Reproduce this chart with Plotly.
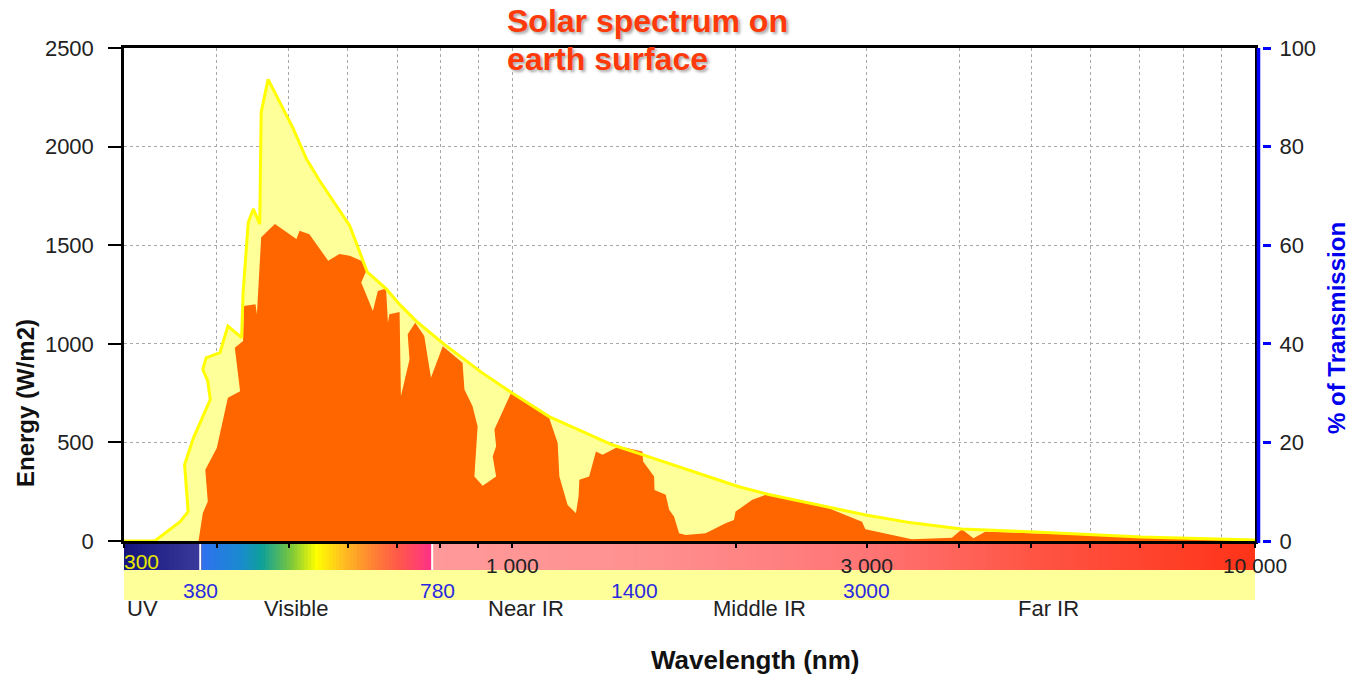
import math
import plotly.graph_objects as go

# ---------------- data ----------------
# Upper (light yellow) spectrum
wl_top = [300, 330, 357, 366, 362, 372, 392, 389, 383, 387, 404, 414, 432, 434, 441, 448,
          457, 459, 469, 507, 528, 550, 604, 638, 677, 705, 743, 810, 909, 997, 1121, 1363,
          1514, 2019, 2215, 2991, 3449, 4025, 5061, 7027, 10000]
e_top = [0, 0, 98, 149, 387, 522, 717, 810, 870, 929, 955, 1090, 1031, 1260, 1616, 1684,
         1607, 2175, 2341, 2091, 1938, 1828, 1599, 1363, 1277, 1200, 1114, 997, 855, 753, 631, 488,
         432, 275, 236, 132, 92, 61, 46, 20, 5]

# Lower (orange) spectrum on earth surface
wl_bot = [300, 378, 383, 389, 386, 400, 414, 430, 423, 434, 435, 451, 453, 459, 479, 512,
          517, 533, 565, 585, 604, 626, 636, 626, 649, 659, 676, 680, 683, 705, 708, 727,
          723, 740, 761, 777, 806, 857, 862, 884, 898, 889, 912, 951, 941, 951, 946, 996,
          1121, 1151, 1157, 1187, 1218, 1228, 1231, 1269, 1296, 1323, 1392, 1497, 1500, 1552,
          1554, 1609, 1626, 1651, 1677, 1712, 1821, 1937, 1988, 1998, 2104, 2193, 2238, 2667,
          2957, 2988, 3452, 3907, 4029, 4178, 4331, 5057, 7033, 8210, 10000]
e_bot = [0, 0, 141, 200, 361, 472, 726, 759, 980, 1014, 1192, 1200, 1150, 1540, 1607, 1531,
         1573, 1556, 1421, 1455, 1446, 1421, 1370, 1311, 1166, 1268, 1280, 1107, 1150, 1161, 734, 921,
         1048, 1107, 1039, 828, 988, 904, 768, 683, 581, 327, 280, 327, 429, 480, 565, 751,
         624, 497, 327, 183, 141, 225, 310, 327, 454, 437, 480, 454, 403, 327,
         259, 234, 158, 124, 39, 31, 39, 90, 107, 149, 209, 234, 234, 166,
         98, 60, 9, 17, 60, 14, 47, 39, 22, 9, 5]

# Axis ticks
x_grid = [300, 400, 500, 600, 700, 800, 900, 1000, 2000, 3000, 4000, 5000, 6000, 7000, 8000, 9000, 10000]
x_labels = {1000: "1 000", 3000: "3 000", 10000: "10 000"}
y_ticks = [0, 500, 1000, 1500, 2000, 2500]
y2_ticks = [0, 20, 40, 60, 80, 100]

# Spectrum colour bar stops (wavelength, colour)
band_wl = [300, 380, 380, 430, 460, 505, 545, 590, 640, 700, 780, 780, 1500, 3000, 5000, 10000]
band_col = ['#14147a', '#3a3a9c', '#3070f0', '#1a8ad0', '#0ea09a', '#7ec83a', '#ffff00', '#ffc020',
            '#ff8a30', '#ff5a48', '#ff3088', '#ff9a9a', '#ff9090', '#ff7575', '#ff5545', '#ff3318']
band_sep = [380, 780]

# Region labels
boundary_vals = [380, 780, 1400, 3000]
boundary_shift = [0, 5, 14, 0]
regions = ["UV", "Visible", "Near IR", "Middle IR", "Far IR"]
region_pos = [0.001, 0.1518, 0.3557, 0.5622, 0.8173]
region_anchor = ["left", "center", "center", "center", "center"]

FONT = "Arial, Liberation Sans, sans-serif"

# ---------------- figure ----------------
fig = go.Figure()
fig.add_trace(go.Scatter(x=wl_top, y=e_top, mode="lines", fill="tozeroy",
                         fillcolor="#ffff99", line=dict(width=0, color="#ffff99"),
                         hoverinfo="skip", showlegend=False))
fig.add_trace(go.Scatter(x=wl_bot, y=e_bot, mode="lines", fill="tozeroy",
                         fillcolor="#ff6600", line=dict(width=0, color="#ff6600"),
                         hoverinfo="skip", showlegend=False))
fig.add_trace(go.Scatter(x=wl_top, y=e_top, mode="lines",
                         line=dict(width=3, color="#ffff00"),
                         hoverinfo="skip", showlegend=False))
# carrier for the right axis
fig.add_trace(go.Scatter(x=[1000], y=[0], yaxis="y2", mode="markers",
                         marker=dict(opacity=0), hoverinfo="skip", showlegend=False))


def hex2rgb(h):
    h = h.lstrip('#')
    return [int(h[i:i + 2], 16) for i in (0, 2, 4)]


def band_color(w):
    lw = math.log10(w)
    for i in range(len(band_wl) - 1):
        a, b = band_wl[i], band_wl[i + 1]
        if a < b and a <= w <= b:
            t = (lw - math.log10(a)) / (math.log10(b) - math.log10(a))
            c0, c1 = hex2rgb(band_col[i]), hex2rgb(band_col[i + 1])
            c = [round(c0[k] + (c1[k] - c0[k]) * t) for k in range(3)]
            return "rgb(%d,%d,%d)" % tuple(c)
    return band_col[-1]


PH = 493.0  # plot height in px


def py(pix):
    return (541 - pix) / PH


shapes = []
# yellow label band
shapes.append(dict(type="rect", xref="x", yref="paper", x0=300, x1=10000,
                   y0=py(600), y1=py(570), fillcolor="#ffff99", line=dict(width=0), layer="below"))
# colour gradient
N = 320
l0, l1 = math.log10(300), 4.0
for k in range(N):
    a = 10 ** (l0 + (l1 - l0) * k / N)
    b = 10 ** (l0 + (l1 - l0) * (k + 1.6) / N)
    b = min(b, 10000)
    c = 10 ** (l0 + (l1 - l0) * (k + 0.5) / N)
    shapes.append(dict(type="rect", xref="x", yref="paper", x0=a, x1=b,
                       y0=py(570), y1=py(542), fillcolor=band_color(c),
                       line=dict(width=0), layer="below"))
for s in band_sep:
    shapes.append(dict(type="line", xref="x", yref="paper", x0=s, x1=s,
                       y0=py(570), y1=py(542), line=dict(color="white", width=2), layer="below"))
# blue right-hand axis line
shapes.append(dict(type="line", xref="paper", yref="paper", xsizemode="pixel", xanchor=1,
                   x0=3.5, x1=3.5, y0=py(543), y1=1.0, line=dict(color="#0000ff", width=3.5)))

title_font = dict(family=FONT, size=32, color="#ff3a0a", weight="bold",
                  shadow="2px 2px 3px rgba(0,0,0,0.35)")
ann = []
ann.append(dict(text="Solar spectrum on", xref="paper", yref="paper", x=0.3369, y=py(21),
                xanchor="left", yanchor="middle", showarrow=False, font=title_font))
ann.append(dict(text="earth surface", xref="paper", yref="paper", x=0.3369, y=py(59),
                xanchor="left", yanchor="middle", showarrow=False, font=title_font))
ann.append(dict(text="300", xref="x", yref="paper", x=math.log10(300), y=py(561),
                xanchor="left", yanchor="middle", showarrow=False, xshift=-2,
                font=dict(family=FONT, size=21, color="#e8e800")))
for v, sh in zip(boundary_vals, boundary_shift):
    ann.append(dict(text=str(v), xref="x", yref="paper", x=math.log10(v), y=py(590),
                    xanchor="center", yanchor="middle", showarrow=False, xshift=sh,
                    font=dict(family=FONT, size=21, color="#2a2ae0")))
for name, p, an in zip(regions, region_pos, region_anchor):
    ann.append(dict(text=name, xref="paper", yref="paper", x=p, y=py(608),
                    xanchor=an, yanchor="middle", showarrow=False,
                    font=dict(family=FONT, size=22, color="#222222")))
ann.append(dict(text="Wavelength (nm)", xref="paper", yref="paper", x=(755 - 124) / 1131,
                y=py(660), xanchor="center", yanchor="middle", showarrow=False,
                font=dict(family=FONT, size=26, color="#111111", weight="bold")))
ann.append(dict(text="Energy (W/m2)", xref="paper", yref="paper", x=(25 - 124) / 1131,
                y=py(403), xanchor="center", yanchor="middle", showarrow=False, textangle=-90,
                font=dict(family=FONT, size=24, color="#111111", weight="bold")))
ann.append(dict(text="% of Transmission", xref="paper", yref="paper", x=(1336 - 124) / 1131,
                y=py(328), xanchor="center", yanchor="middle", showarrow=False, textangle=-90,
                font=dict(family=FONT, size=24, color="#0000ee", weight="bold")))

fig.update_layout(
    width=1358, height=677,
    margin=dict(l=124, r=103, t=48, b=136, pad=0),
    paper_bgcolor="white", plot_bgcolor="white",
    showlegend=False, hovermode=False,
    font=dict(family=FONT, size=22, color="#222222"),
    shapes=shapes, annotations=ann,
    xaxis=dict(type="log", range=[math.log10(300), 4], tickvals=x_grid,
               ticktext=[x_labels.get(v, "") for v in x_grid],
               showgrid=True, gridcolor="#a8a8a8", griddash="dot", gridwidth=1,
               showline=True, linecolor="black", linewidth=2.5, mirror=True,
               ticks="outside", ticklen=4, tickwidth=2, tickcolor="black",
               ticklabelstandoff=0,
               tickfont=dict(family=FONT, size=21, color="#222222"),
               zeroline=False, fixedrange=True),
    yaxis=dict(range=[0, 2500], tickvals=y_ticks,
               showgrid=True, gridcolor="#a8a8a8", griddash="dot", gridwidth=1,
               showline=True, linecolor="black", linewidth=2.5, mirror=True,
               ticks="outside", ticklen=13, tickwidth=1.5, tickcolor="black",
               ticklabelstandoff=10,
               tickfont=dict(family=FONT, size=22, color="#222222"),
               zeroline=False, fixedrange=True),
    yaxis2=dict(range=[0, 100], tickvals=y2_ticks, overlaying="y", side="right",
                anchor="free", position=1, shift=7,
                showgrid=False, showline=False, zeroline=False,
                ticks="outside", ticklen=8, tickwidth=3, tickcolor="#0000ff",
                ticklabelstandoff=4,
                tickfont=dict(family=FONT, size=22, color="#222222"), fixedrange=True),
)

fig.write_html("out.html")
